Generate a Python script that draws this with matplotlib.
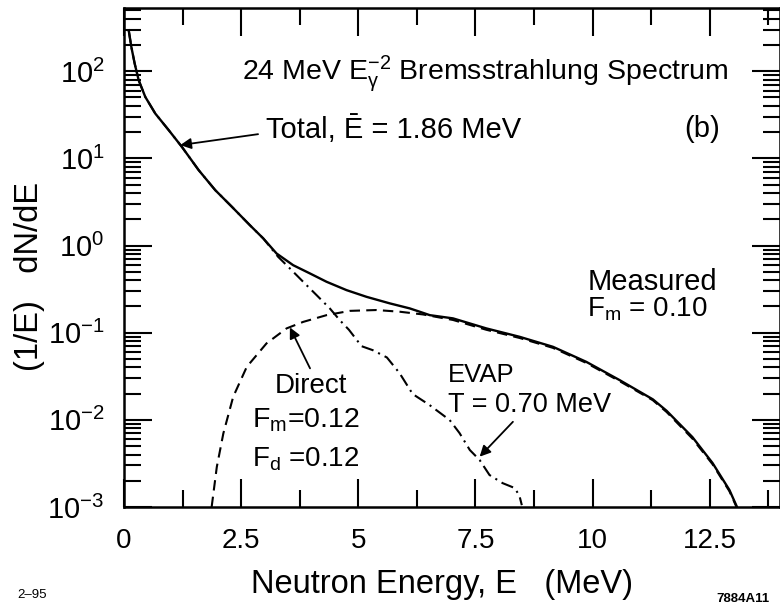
import matplotlib
matplotlib.use("Agg")
import matplotlib.pyplot as plt
from matplotlib.ticker import LogLocator, MultipleLocator, NullFormatter

plt.rcParams['font.family'] = ['Liberation Sans', 'DejaVu Sans']
plt.rcParams['mathtext.fontset'] = 'custom'
plt.rcParams['mathtext.rm'] = 'Liberation Sans'
plt.rcParams['mathtext.it'] = 'Liberation Sans:italic'
plt.rcParams['mathtext.bf'] = 'Liberation Sans:bold'

# total spectrum (solid)
total_e = [0.10, 0.156, 0.228, 0.313, 0.454, 0.667, 0.953, 1.237, 1.593, 1.947,
           2.303, 2.687, 2.970, 3.256, 3.610, 3.966, 4.322, 4.748, 5.175, 5.672,
           6.098, 6.311, 6.525, 7.021, 7.733, 8.443, 9.154, 9.866, 10.576, 11.286,
           11.58, 12.13, 12.56, 12.92, 13.09]
total_y = [295, 190, 122, 78.8, 50.7, 32.7, 21.1, 13.5, 7.33, 4.32,
           2.78, 1.71, 1.21, 0.81, 0.595, 0.479, 0.384, 0.308, 0.258, 0.217,
           0.190, 0.174, 0.159, 0.146, 0.112, 0.0897, 0.0689, 0.0463, 0.0286, 0.0172,
           0.0127, 0.00635, 0.0032, 0.00157, 0.00098]

# direct component (dashed)
direct_e = [1.87, 1.98, 2.12, 2.33, 2.62, 3.04, 3.469, 3.823, 4.322, 4.819, 5.388,
            5.885, 6.38, 7.021, 7.733, 8.443, 9.154, 9.866, 10.576, 11.286, 11.58,
            12.13, 12.56, 12.92, 13.08]
direct_y = [0.001, 0.00288, 0.0070, 0.0184, 0.0406, 0.0753, 0.112, 0.133, 0.159, 0.178,
            0.182, 0.174, 0.162, 0.140, 0.108, 0.087, 0.067, 0.045, 0.0278, 0.0168,
            0.0123, 0.0061, 0.0031, 0.00152, 0.00098]

# evaporation component (dash-dot)
evap_e = [0.10, 0.156, 0.228, 0.313, 0.454, 0.667, 0.953, 1.237, 1.593, 1.947,
          2.303, 2.687, 2.970, 3.29, 3.54, 3.823, 4.109, 4.392, 4.606, 4.80,
          5.07, 5.31, 5.61, 5.88, 6.16, 6.52, 6.95, 7.16, 7.38, 7.59, 7.80,
          8.08, 8.34, 8.44, 8.49]
evap_y = [295, 190, 122, 78.8, 50.7, 32.7, 21.1, 13.5, 7.33, 4.32,
          2.78, 1.71, 1.21, 0.741, 0.546, 0.384, 0.270, 0.190, 0.139, 0.108,
          0.070, 0.063, 0.052, 0.0344, 0.0198, 0.0148, 0.00995, 0.00706, 0.00451,
          0.00346, 0.00233, 0.00188, 0.00165, 0.00134, 0.00105]

x_ticks = [0, 2.5, 5, 7.5, 10, 12.5]
x_ticklabels = ['0', '2.5', '5', '7.5', '10', '12.5']

fig = plt.figure(figsize=(7.8, 6.07), dpi=100)
ax = fig.add_axes([0.159, 0.1647, 0.841, 0.822])

ax.plot(total_e, total_y, color='black', lw=1.7)
ax.plot(direct_e, direct_y, color='black', lw=1.5, linestyle=(0, (5, 3)))
ax.plot(evap_e, evap_y, color='black', lw=1.5, linestyle=(0, (6, 2.5, 1, 2.5)))

ax.set_yscale('log')
ax.set_xlim(0, 14)
ax.set_ylim(1e-3, 530)
ax.set_xticks(x_ticks)
ax.set_xticklabels(x_ticklabels)
ax.xaxis.set_minor_locator(MultipleLocator(1.25))
ax.yaxis.set_major_locator(LogLocator(base=10, numticks=20))
ax.yaxis.set_minor_locator(LogLocator(base=10, subs=range(2, 10), numticks=20))
ax.yaxis.set_minor_formatter(NullFormatter())

ax.tick_params(which='both', direction='in', top=True, right=True, width=1.5, colors='black')
ax.tick_params(which='major', length=20)
ax.tick_params(which='minor', length=12)
ax.tick_params(axis='x', which='major', labelsize=20, pad=15)
ax.tick_params(axis='y', which='major', labelsize=21, pad=14)
for s in ax.spines.values():
    s.set_linewidth(1.8)

# text annotations
ax.text(0.550, 0.856, r'24 MeV E$_\mathrm{γ}^{-2}$ Bremsstrahlung Spectrum',
        transform=ax.transAxes, ha='center', va='baseline', fontsize=20.5)
ax.annotate('Total, Ē = 1.86 MeV', xy=(1.2, 14.2), xytext=(0.216, 0.739),
            textcoords='axes fraction', fontsize=21, va='baseline', ha='left',
            arrowprops=dict(arrowstyle='-|>', color='black', lw=1.3,
                            mutation_scale=16, shrinkA=0, shrinkB=0,
                            relpos=(-0.03, 0.35)))
ax.text(0.881, 0.741, '(b)', transform=ax.transAxes, ha='center', va='baseline', fontsize=21)
ax.text(0.706, 0.435, 'Measured', transform=ax.transAxes, ha='left', va='baseline', fontsize=21)
ax.text(0.706, 0.381, r'F$_\mathrm{m}$ = 0.10', transform=ax.transAxes, ha='left',
        va='baseline', fontsize=20)

ax.annotate('', xy=(3.54, 0.115), xytext=(3.97, 0.039),
            arrowprops=dict(arrowstyle='-|>', color='black', lw=1.3,
                            mutation_scale=16, shrinkA=0, shrinkB=0))
ax.text(0.230, 0.228, 'Direct', transform=ax.transAxes, ha='left', va='baseline', fontsize=20)
ax.text(0.195, 0.159, r'F$_\mathrm{m}$=0.12', transform=ax.transAxes, ha='left',
        va='baseline', fontsize=20.5)
ax.text(0.195, 0.081, r'F$_\mathrm{d}$ =0.12', transform=ax.transAxes, ha='left',
        va='baseline', fontsize=20)

ax.annotate('', xy=(7.59, 0.00378), xytext=(8.30, 0.0095),
            arrowprops=dict(arrowstyle='-|>', color='black', lw=1.3,
                            mutation_scale=16, shrinkA=0, shrinkB=0))
ax.text(0.494, 0.251, 'EVAP', transform=ax.transAxes, ha='left', va='baseline', fontsize=18.5)
ax.text(0.494, 0.191, 'T = 0.70 MeV', transform=ax.transAxes, ha='left',
        va='baseline', fontsize=19.5)

fig.text(0.567, 0.023, 'Neutron Energy, E   (MeV)', ha='center', va='baseline', fontsize=23.5)
fig.text(0.038, 0.545, '(1/E)   dN/dE', rotation=90, ha='center', va='center', fontsize=23.5)
fig.text(0.022, 0.015, '2–95', ha='left', va='baseline', fontsize=9.5)
fig.text(0.919, 0.008, '7884A11', ha='left', va='baseline', fontsize=9.5, fontweight='bold')

fig.savefig('out.png', dpi=100)
